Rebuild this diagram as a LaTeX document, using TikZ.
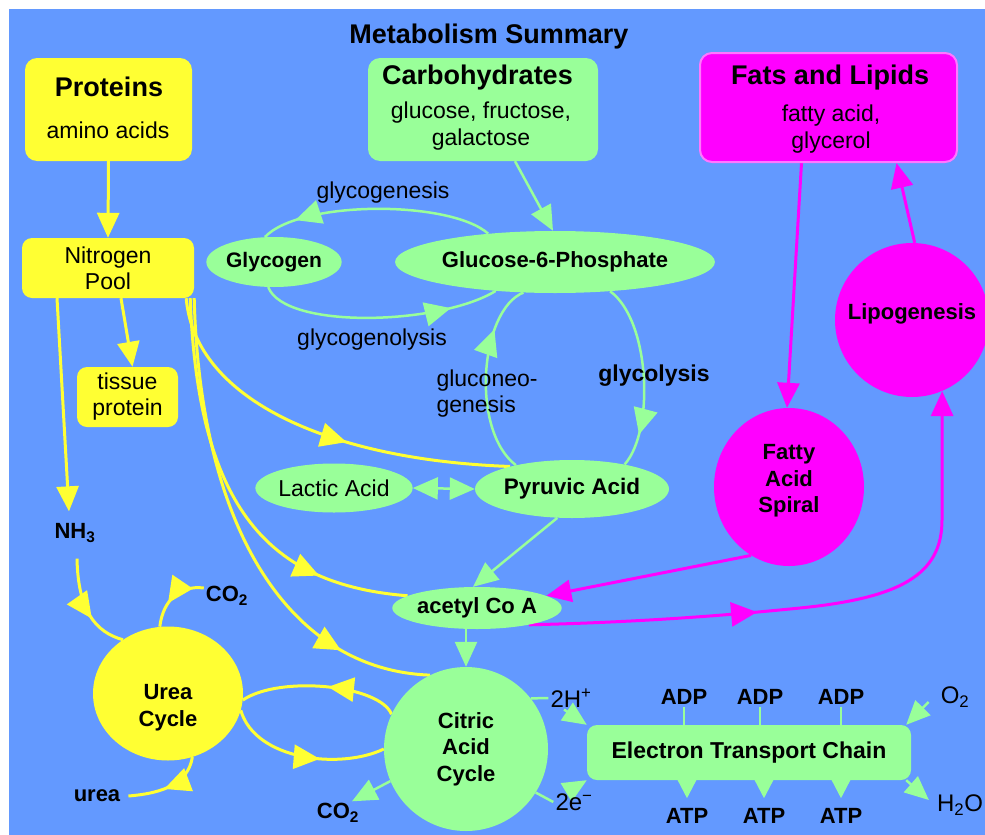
\documentclass[tikz,border=0pt]{standalone}
\usepackage{fontspec}
\setmainfont{Liberation Sans}
\usetikzlibrary{arrows.meta,shapes.geometric,decorations.markings}
\definecolor{bgblue}{RGB}{99,153,255}
\definecolor{lgreen}{RGB}{153,255,153}
\definecolor{yel}{RGB}{255,255,51}
\definecolor{mag}{RGB}{255,0,255}
\definecolor{magb}{RGB}{255,120,255}
\pgfdeclarelayer{bglayer}
\pgfdeclarelayer{edgelayer}
\pgfsetlayers{bglayer,edgelayer,main}
\begin{document}
\begin{tikzpicture}[x=1pt,y=-1pt,
  ftitle/.style={font=\fontsize{27}{30}\selectfont\bfseries},
  fsub/.style={font=\fontsize{23}{27}\selectfont, align=center},
  fbold/.style={font=\fontsize{22}{26.5}\selectfont\bfseries, align=center},
  freg/.style={font=\fontsize{23}{26}\selectfont, align=center},
  flab/.style={font=\fontsize{22}{26}\selectfont\bfseries, inner sep=2pt},
  flabr/.style={font=\fontsize{24}{26}\selectfont, inner sep=2pt},
  rbox/.style={rounded corners=12pt, inner sep=0pt},
  ybox/.style={rbox, fill=yel},
  gbox/.style={rbox, fill=lgreen},
  gell/.style={ellipse, fill=lgreen, inner sep=0pt},
  yln/.style={color=yel, line width=3pt},
  yar/.style={yln, -{Triangle[length=25pt,width=22pt]}},
  gln/.style={color=lgreen, line width=2.5pt},
  gar/.style={gln, -{Triangle[length=25pt,width=22pt]}},
  garS/.style={gln, -{Triangle[length=24pt,width=21pt]}},
  mln/.style={color=mag, line width=3pt},
  mar/.style={mln, -{Triangle[length=25pt,width=22pt]}},
  midarr/.style={postaction={decorate,decoration={markings,mark=at position #1 with {\arrow{Triangle[length=26pt,width=24pt]}}}}}
]
\begin{pgfonlayer}{bglayer}
  \fill[white] (0,0) rectangle (985,835);
  \fill[bgblue] (9,9) rectangle (985,835);
\end{pgfonlayer}
\useasboundingbox (0,0) rectangle (985,835);

% title
\node[ftitle] (title) at (489,37) {Metabolism Summary};

% boxes
\node[ybox, minimum width=167pt, minimum height=103pt] (prot) at (108.5,109.5) {};
\node[ftitle] (protT) at (109,87) {Proteins};
\node[fsub] (protS) at (108,130) {amino acids};

\node[gbox, minimum width=230pt, minimum height=103pt] (carb) at (483,109.5) {};
\node[ftitle] (carbT) at (477.5,78) {Carbohydrates};
\node[fsub] (carbS) at (481,126) {glucose, fructose,\\galactose};

\node[rbox, fill=mag, draw=magb, line width=2pt, minimum width=257pt, minimum height=109pt] (fats) at (828.5,107.5) {};
\node[ftitle] (fatsT) at (830,78) {Fats and Lipids};
\node[fsub] (fatsS) at (831,129) {fatty acid,\\glycerol};

\node[ybox, rounded corners=10pt, minimum width=172pt, minimum height=60pt, freg] (np) at (108,268) {Nitrogen\\Pool};
\node[ybox, rounded corners=10pt, minimum width=101pt, minimum height=60pt, freg] (tis) at (127.5,397) {tissue\\protein};

% ellipses
\node[gell, minimum width=125pt, minimum height=50pt, font=\fontsize{21}{24}\selectfont\bfseries] (gly) at (274,262) {Glycogen};
\node[gell, minimum width=264pt, minimum height=62pt, font=\fontsize{22}{24}\selectfont\bfseries] (g6p) at (555,262) {Glucose-6-Phosphate};
\node[gell, minimum width=142pt, minimum height=49pt, font=\fontsize{23}{24}\selectfont] (lac) at (334,488) {Lactic Acid};
\node[gell, minimum width=194pt, minimum height=58pt, font=\fontsize{22.5}{24}\selectfont\bfseries] (pyr) at (572,489) {Pyruvic Acid};
\node[gell, minimum width=160pt, minimum height=42pt, font=\fontsize{22}{24}\selectfont\bfseries] (acoa) at (477,608) {acetyl Co A\hspace{14pt}};

% circles
\node[ellipse, fill=yel, minimum width=150pt, minimum height=134pt, inner sep=0pt,
      label={[fbold, yshift=-14pt]center:Urea\\Cycle}] (urea) at (168,693.5) {};
\node[circle, fill=lgreen, minimum size=164pt, inner sep=0pt, fbold] (cit) at (466,749) {Citric\\Acid\\Cycle};
\node[ellipse, fill=mag, minimum width=150pt, minimum height=158pt, inner sep=0pt,
      label={[fbold, yshift=6pt]center:Fatty\\Acid\\Spiral}] (fas) at (789,487) {};
\node[circle, fill=mag, minimum size=154pt, inner sep=0pt,
      label={[fbold, yshift=6pt]center:Lipogenesis}] (lipo) at (912,320) {};

\node[gbox, rounded corners=10pt, minimum width=324pt, minimum height=55pt, font=\fontsize{23}{24}\selectfont\bfseries] (etc) at (749,752.5) {Electron Transport Chain};

% labels
\node[freg] (lgen) at (383,193) {glycogenesis};
\node[freg] (llys) at (372,340) {glycogenolysis};
\node[freg, align=left, anchor=west] (lneo) at (433,394) {gluconeo-\\genesis};
\node[font=\fontsize{23}{24}\selectfont\bfseries] (lglyc) at (654,376) {glycolysis};
\node[flab] (nh3) at (75,533) {NH\textsubscript{3}};
\node[flab] (co2a) at (227,596) {CO\textsubscript{2}};
\node[flab] (urealbl) at (97,796) {urea};
\node[flab] (co2b) at (338,813) {CO\textsubscript{2}};
\node[flabr] (h2) at (571,698) {2H\textsuperscript{+}};
\node[flabr] (e2) at (574,802) {2e\textsuperscript{−}};
\node[flab] (adp1) at (684,697) {ADP};
\node[flab] (adp2) at (760,697) {ADP};
\node[flab] (adp3) at (841,697) {ADP};
\node[flab] (atp1) at (687,816) {ATP};
\node[flab] (atp2) at (764,816) {ATP};
\node[flab] (atp3) at (841,816) {ATP};
\node[flabr] (o2) at (955,697) {O\textsubscript{2}};
\node[flabr] (h2o) at (960,805) {H\textsubscript{2}O};

\begin{pgfonlayer}{edgelayer}
% yellow
\draw[yar] (prot.south) -- (np.north);
\draw[yar] ([xshift=13pt]np.south) -- ([xshift=5pt]tis.north);
\draw[yar] ([xshift=-51pt]np.south) -- ([xshift=-6pt,yshift=10pt]nh3.north);
\draw[yln, midarr=0.62] ([xshift=2pt,yshift=-14pt]nh3.south) .. controls (78,610) and (95,632) .. (urea.130);
\draw[yln, midarr=0.62] ([yshift=8pt]co2a.west) .. controls (180,585) and (163,600) .. (urea.97);
\draw[yln, midarr=0.55] (urea.-69) .. controls (188,783) and (165,793) .. ([xshift=6pt]urealbl.east);
\draw[yln, midarr=0.45] (cit.155) .. controls (380,685) and (280,675) .. (urea.-5);
\draw[yln, midarr=0.6] (urea.-13) .. controls (255,760) and (340,770) .. (cit.west);
\draw[yln, midarr=0.58] ([xshift=-8pt]np.south east) .. controls (195,400) and (330,460) .. (pyr.160);
\draw[yln, midarr=0.78] ([xshift=-4pt]np.south east) .. controls (198,510) and (270,585) .. (acoa.170);
\draw[yln, midarr=0.81] (np.south east) .. controls (200,530) and (290,670) .. (cit.116);
% green
\draw[gar] ([xshift=32pt]carb.south) -- ([xshift=-2pt]g6p.north);
\draw[gln, midarr=0.85] (g6p.157) .. controls (450,200) and (300,200) .. (gly.110);
\draw[gln, midarr=0.8] (gly.-103) .. controls (285,330) and (440,325) .. (g6p.-154);
\draw[gln, midarr=0.82] (g6p.-28) .. controls (650,320) and (655,430) .. (pyr.25);
\draw[gln, midarr=0.75] (pyr.157) .. controls (470,430) and (480,310) .. (g6p.-136);
\draw[gln, {Triangle[length=25pt,width=22pt]}-{Triangle[length=25pt,width=22pt]}] (lac.east) -- (pyr.west);
\draw[gar] (pyr.-117) -- ([xshift=-4pt]acoa.north);
\draw[gar] ([xshift=-11pt]acoa.south) -- (cit.north);
\draw[gar] (cit.203) -- ([xshift=14pt]co2b.north);
\draw[gln] (cit.38) -- (h2.west);
\draw[garS] ([xshift=-7pt]h2.south) -- (etc.north west);
\draw[gln] (cit.-32) -- (e2.west);
\draw[garS] ([xshift=-6pt]e2.north) -- (etc.south west);
\foreach \a in {adp1,adp2,adp3} \draw[gln] (\a.south) -- (\a.south |- etc.north);
\foreach \a in {atp1,atp2,atp3} \draw[gln, -{Triangle[length=19pt,width=19pt]}] (\a.north |- etc.south) -- ([yshift=8pt]\a.north);
\draw[garS] ([xshift=-10pt,yshift=-5pt]o2.west) -- ([xshift=-5pt]etc.north east);
\draw[garS] ([xshift=-5pt]etc.south east) -- ([xshift=-6pt,yshift=5pt]h2o.west);
% magenta
\draw[mar] ([xshift=-27pt]fats.south) -- ([xshift=-2pt]fas.north);
\draw[mar] (lipo.88) -- ([xshift=68pt]fats.south);
\draw[mar] (fas.-119) -- (acoa.10);
\draw[mar, midarr=0.39] (acoa.-18) .. controls (650,622) and (740,614) .. (800,608) .. controls (900,598) and (942,575) .. (942,520) -- (lipo.-67);
\end{pgfonlayer}
\end{tikzpicture}
\end{document}
